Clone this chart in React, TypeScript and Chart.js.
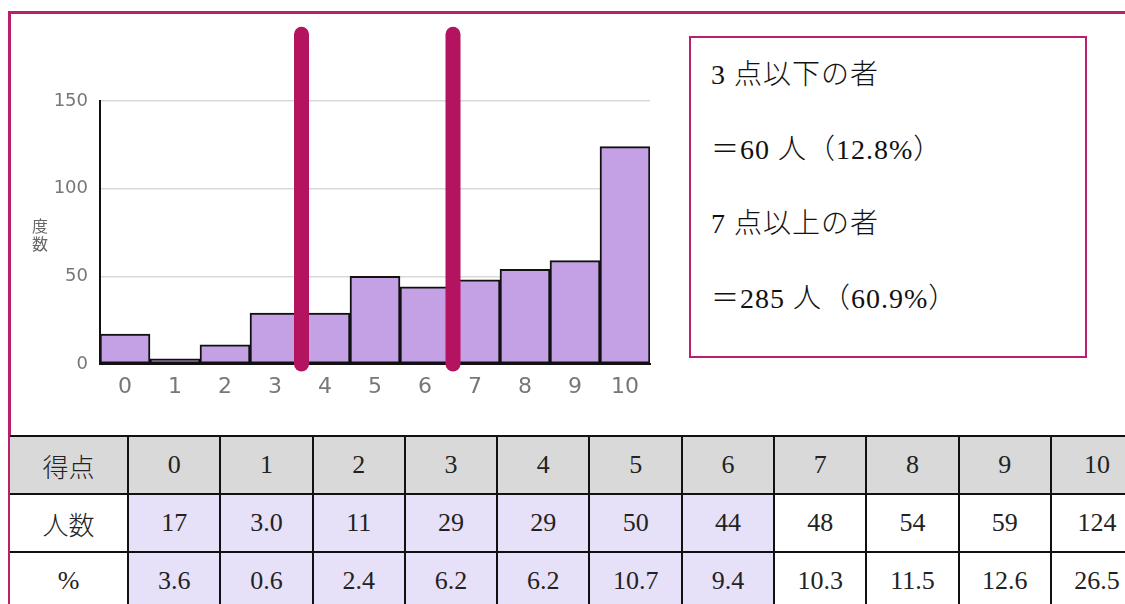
import React, { useEffect, useRef } from "react";
import { Chart, registerables } from "chart.js";

Chart.register(...registerables);

const scores = ["0", "1", "2", "3", "4", "5", "6", "7", "8", "9", "10"];
const counts = [17, 3, 11, 29, 29, 50, 44, 48, 54, 59, 124];
const countLabels = ["17", "3.0", "11", "29", "29", "50", "44", "48", "54", "59", "124"];
const percentLabels = ["3.6", "0.6", "2.4", "6.2", "6.2", "10.7", "9.4", "10.3", "11.5", "12.6", "26.5"];
const yTicks = [0, 50, 100, 150];
const markerPositions = [3.53, 6.56];
const markerTop = 188;
const highlightedCount = 7;
const summaryLines = ["3 点以下の者", "＝60 人（12.8%）", "7 点以上の者", "＝285 人（60.9%）"];

const MAGENTA = "#b3135f";
const BORDER = "#b81f6c";
const LATIN_SERIF = '"Liberation Serif", serif';
const CJK = '"Noto Sans CJK JP", sans-serif';
const TICK_FONT = "DejaVu Sans";

Chart.defaults.font.family = TICK_FONT;

const markerPlugin = {
  id: "markers",
  afterDatasetsDraw(chart: any) {
    const { ctx, scales } = chart;
    ctx.save();
    ctx.strokeStyle = MAGENTA;
    ctx.lineWidth = 15;
    ctx.lineCap = "round";
    markerPositions.forEach((p) => {
      const x = scales.x.getPixelForValue(p);
      ctx.beginPath();
      ctx.moveTo(x, scales.y.getPixelForValue(markerTop));
      ctx.lineTo(x, scales.y.getPixelForValue(0));
      ctx.stroke();
    });
    ctx.restore();
  },
};

// Render ASCII runs in a serif face and the rest in the CJK face.
function MixedText({ text }: { text: string }) {
  const parts = text.match(/[\x20-\x7e]+|[^\x20-\x7e]+/g) || [];
  return (
    <>
      {parts.map((p, i) => {
        const latin = /^[\x20-\x7e]+$/.test(p);
        return (
          <span key={i} style={{ fontFamily: latin ? LATIN_SERIF : CJK, fontWeight: latin ? 400 : 300 }}>
            {p}
          </span>
        );
      })}
    </>
  );
}

export default function App() {
  const ref = useRef<HTMLCanvasElement>(null);

  useEffect(() => {
    if (!ref.current) return;
    const chart = new Chart(ref.current, {
      type: "bar",
      data: {
        labels: scores,
        datasets: [
          {
            data: counts,
            backgroundColor: "#c4a1e4",
            borderColor: "#111111",
            borderWidth: 2,
            borderSkipped: false,
            categoryPercentage: 1,
            barPercentage: 1,
          },
        ],
      },
      options: {
        responsive: false,
        animation: false,
        events: [],
        layout: { padding: { left: 0, right: 30, top: 101, bottom: 0 } },
        plugins: { legend: { display: false }, tooltip: { enabled: false } },
        scales: {
          x: {
            grid: { display: false, drawTicks: false },
            border: { display: true, color: "#111111", width: 2 },
            ticks: {
              color: "#777777",
              font: { family: TICK_FONT, size: 22 },
              padding: 10,
              maxRotation: 0,
            },
            afterFit: (s: any) => {
              s.height = 56;
            },
          },
          y: {
            min: 0,
            max: 150,
            afterBuildTicks: (s: any) => {
              s.ticks = yTicks.map((v) => ({ value: v }));
            },
            grid: { color: "#d9d9d9", lineWidth: 1.5, drawTicks: false },
            border: { display: true, color: "#111111", width: 2 },
            ticks: {
              color: "#777777",
              font: { family: TICK_FONT, size: 18 },
              padding: 12,
            },
            afterFit: (s: any) => {
              s.width = 100;
            },
          },
        },
      },
      plugins: [markerPlugin],
    });
    return () => chart.destroy();
  }, []);

  const cellBase: React.CSSProperties = {
    border: "2px solid #111",
    textAlign: "center",
    verticalAlign: "middle",
    fontFamily: LATIN_SERIF,
    fontSize: 26,
    color: "#222",
    padding: 0,
  };
  const headCell: React.CSSProperties = { ...cellBase, fontFamily: CJK, fontWeight: 300, borderLeft: "none" };

  return (
    <div
      style={{
        position: "absolute",
        left: 0,
        top: 0,
        width: 1125,
        height: 604,
        overflow: "hidden",
        background: "#fff",
      }}
    >
      <div
        style={{
          position: "absolute",
          left: 8,
          top: 11,
          width: 1200,
          height: 700,
          border: `3px solid ${BORDER}`,
        }}
      />
      <canvas
        ref={ref}
        width={680}
        height={420}
        style={{ position: "absolute", left: 0, top: 0, width: 680, height: 420 }}
      />
      <div
        style={{
          position: "absolute",
          left: 32,
          top: 216,
          fontFamily: CJK,
          fontSize: 16,
          lineHeight: "18px",
          color: "#666",
          width: 18,
        }}
      >
        <div>度</div>
        <div>数</div>
      </div>
      <div
        style={{
          position: "absolute",
          left: 689,
          top: 36,
          width: 394,
          height: 318,
          border: `2px solid ${BORDER}`,
        }}
      >
        {summaryLines.map((t, i) => (
          <div
            key={i}
            style={{
              position: "absolute",
              left: 20,
              top: 17 + i * 74.5,
              fontSize: 28,
              letterSpacing: 1,
              lineHeight: "34px",
              color: "#111",
              whiteSpace: "pre",
            }}
          >
            <MixedText text={t} />
          </div>
        ))}
      </div>
      <table
        style={{
          position: "absolute",
          left: 10,
          top: 435,
          borderCollapse: "collapse",
          tableLayout: "fixed",
          width: 118 + 11 * 92.3,
        }}
      >
        <colgroup>
          <col style={{ width: 118 }} />
          {scores.map((s) => (
            <col key={s} style={{ width: 92.3 }} />
          ))}
        </colgroup>
        <tbody>
          <tr style={{ height: 58 }}>
            <td style={{ ...headCell, background: "#d9d9d9" }}>得点</td>
            {scores.map((s) => (
              <td key={s} style={{ ...cellBase, background: "#d9d9d9" }}>
                {s}
              </td>
            ))}
          </tr>
          <tr style={{ height: 58 }}>
            <td style={{ ...headCell, background: "#fff" }}>人数</td>
            {countLabels.map((c, i) => (
              <td
                key={i}
                style={{ ...cellBase, background: i < highlightedCount ? "#e6e0f8" : "#fff" }}
              >
                {c}
              </td>
            ))}
          </tr>
          <tr style={{ height: 58 }}>
            <td style={{ ...cellBase, background: "#fff", borderLeft: "none" }}>%</td>
            {percentLabels.map((c, i) => (
              <td
                key={i}
                style={{ ...cellBase, background: i < highlightedCount ? "#e6e0f8" : "#fff" }}
              >
                {c}
              </td>
            ))}
          </tr>
        </tbody>
      </table>
    </div>
  );
}
